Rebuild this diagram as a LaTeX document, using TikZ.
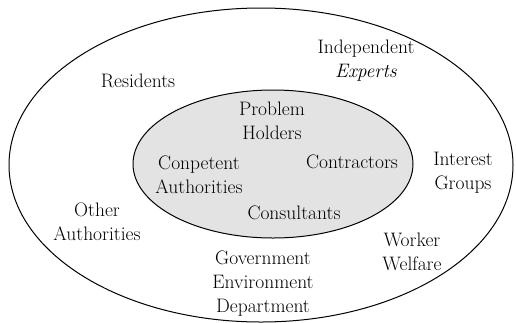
\documentclass[tikz,border=0pt]{standalone}
\usepackage{tikz}

\tikzset{
  group/.style={align=center, inner sep=0pt, font=\fontsize{19.5}{24}\selectfont},
}

\begin{document}
\begin{tikzpicture}[x=1pt, y=-1pt]
  \useasboundingbox (0,0) rectangle (516,322);
  \clip (0,0) rectangle (516,322);

  % outer circle of stakeholders
  \draw[line width=1pt] (261,165) ellipse [x radius=252pt, y radius=157pt];
  % inner circle: the core parties
  \draw[line width=1pt, fill=black!11] (273,164) ellipse [x radius=140pt, y radius=74pt];

  \begin{scope}[every node/.style=group]
    \node (holders)     at (272,121) {Problem\\Holders};
    \node (competent)   at (199,175) {Conpetent\\Authorities};
    \node (contractors) at (352,162) {Contractors};
    \node (consultants) at (294,213) {Consultants};
  \end{scope}

  \begin{scope}[every node/.style=group]
    \node (residents)  at (138,81)  {Residents};
    \node (experts)    at (366,61)  {Independent\\\textit{Experts}};
    \node (interest)   at (463,173) {Interest\\Groups};
    \node (other)      at (97,222)  {Other\\Authorities};
    \node (welfare)    at (412,252) {Worker\\Welfare};
    \node (government) at (263,284) {Government\\Environment\\Department};
  \end{scope}
\end{tikzpicture}
\end{document}
